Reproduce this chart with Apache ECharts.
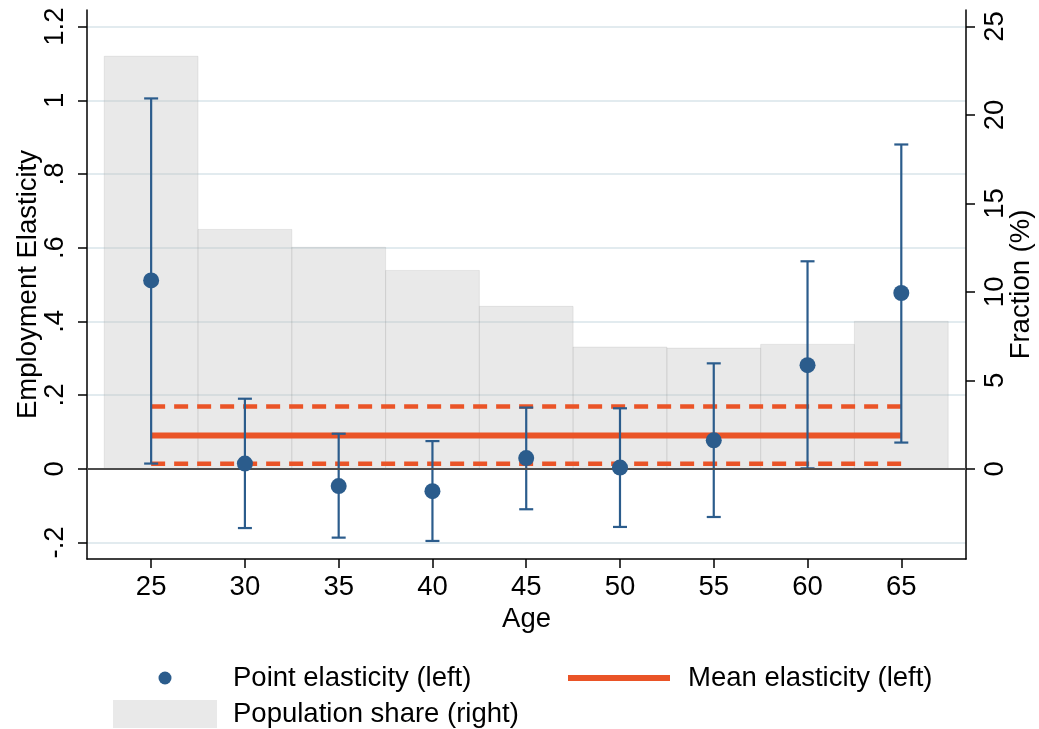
<!DOCTYPE html>
<html><head><meta charset="utf-8">
<script src="https://cdn.jsdelivr.net/npm/echarts@6/dist/echarts.min.js"></script>
<style>html,body{margin:0;padding:0;background:#fff}#c{width:1039px;height:729px}</style>
</head><body><div id="c"></div>
<script>
const ages = [25, 30, 35, 40, 45, 50, 55, 60, 65];
const pointElasticity = [0.511, 0.014, -0.047, -0.061, 0.029, 0.003, 0.077, 0.281, 0.477];
const ciLower = [0.014, -0.161, -0.187, -0.196, -0.110, -0.158, -0.131, 0.001, 0.071];
const ciUpper = [1.005, 0.190, 0.095, 0.075, 0.166, 0.164, 0.286, 0.563, 0.880];
const populationShare = [23.32, 13.53, 12.52, 11.21, 9.18, 6.88, 6.82, 7.03, 8.33];
const meanElasticity = 0.090;
const meanLower = 0.0136;
const meanUpper = 0.169;
const meanRange = [25, 65];
const binWidth = 5;
const leftTicks = [-0.2, 0, 0.2, 0.4, 0.6, 0.8, 1, 1.2];
const rightTicks = [0, 5, 10, 15, 20, 25];
const xTicks = [25, 30, 35, 40, 45, 50, 55, 60, 65];

const NAVY = '#2b5c8c';
const ORANGE = '#ea5427';
const FONT = 'Liberation Sans';
const FS = 27.5;

function fmtLeft(v) {
  let s = String(+(+v).toFixed(1));
  s = s.replace(/^0\./, '.').replace(/^-0\./, '-.');
  return s;
}

const chart = echarts.init(document.getElementById('c'));
const LMIN = -0.245, LMAX = 1.245;
const RMIN = LMIN * 25 / 1.2, RMAX = LMAX * 25 / 1.2;
const legendText = { fontSize: FS, fontFamily: FONT, color: '#000' };

const option = {
  animation: false,
  backgroundColor: '#fff',
  textStyle: { fontFamily: FONT },
  grid: { left: 87, right: 73, top: 10, bottom: 170, containLabel: false, outerBoundsMode: 'none' },
  xAxis: {
    type: 'value', min: 21.58, max: 68.45,
    name: 'Age', nameLocation: 'middle', nameGap: 42,
    nameTextStyle: { fontSize: FS, fontFamily: FONT, color: '#000' },
    axisLine: { show: true, onZero: false, lineStyle: { color: '#000', width: 1.5 } },
    axisTick: { show: true, length: 9, customValues: xTicks, lineStyle: { color: '#000', width: 1.5 } },
    axisLabel: { customValues: xTicks, fontSize: FS, fontFamily: FONT, color: '#000', margin: 14 },
    splitLine: { show: false }
  },
  yAxis: [
    {
      type: 'value', min: LMIN, max: LMAX, position: 'left',
      name: 'Employment Elasticity', nameLocation: 'middle', nameGap: 45, nameMoveOverlap: false,
      nameTextStyle: { fontSize: FS, fontFamily: FONT, color: '#000' },
      axisLine: { show: true, onZero: false, lineStyle: { color: '#000', width: 1.5 } },
      axisTick: { show: true, length: 9, customValues: leftTicks, lineStyle: { color: '#000', width: 1.5 } },
      axisLabel: { customValues: leftTicks, formatter: fmtLeft, rotate: 90, fontSize: FS, fontFamily: FONT, color: '#000', margin: 18 },
      splitLine: { show: true, lineStyle: { color: '#e2ebef', width: 2 } }
    },
    {
      type: 'value', min: RMIN, max: RMAX, position: 'right',
      name: 'Fraction (%)', nameLocation: 'middle', nameGap: 41, nameMoveOverlap: false,
      nameTextStyle: { fontSize: FS, fontFamily: FONT, color: '#000' },
      axisLine: { show: true, onZero: false, lineStyle: { color: '#000', width: 1.5 } },
      axisTick: { show: true, length: 9, customValues: rightTicks, lineStyle: { color: '#000', width: 1.5 } },
      axisLabel: { customValues: rightTicks, rotate: 90, fontSize: FS, fontFamily: FONT, color: '#000', margin: 15 },
      splitLine: { show: false }
    }
  ],
  legend: [
    {
      left: 158.5, top: 664, padding: 0,
      itemWidth: 13, itemHeight: 13,
      itemStyle: { borderWidth: 0 },
      textStyle: Object.assign({ padding: [0, 0, 0, 56.5] }, legendText),
      data: [{ name: 'Point elasticity (left)', icon: 'path://M0,6.5A6.5,6.5 0 1 1 13,6.5A6.5,6.5 0 1 1 0,6.5Z' }]
    },
    {
      left: 568, top: 664, padding: 0,
      itemWidth: 102, itemHeight: 13,
      itemStyle: { borderWidth: 0 },
      textStyle: Object.assign({ padding: [0, 0, 0, 13] }, legendText),
      data: [{ name: 'Mean elasticity (left)', icon: 'path://M0,0H100V6H0Z' }]
    },
    {
      left: 113, top: 700, padding: 0,
      itemWidth: 104, itemHeight: 28,
      itemStyle: { borderWidth: 0 },
      textStyle: Object.assign({ padding: [0, 0, 0, 11] }, legendText),
      data: [{ name: 'Population share (right)', icon: 'rect' }]
    }
  ],
  series: [
    {
      name: 'Population share (right)', type: 'custom', yAxisIndex: 1, z: 1,
      color: 'rgba(190,190,190,0.34)',
      data: ages.map((a, i) => [a, populationShare[i]]),
      renderItem: function (params, api) {
        const x = api.value(0), h = api.value(1);
        const p0 = api.coord([x - binWidth / 2, 0]);
        const p1 = api.coord([x + binWidth / 2, h]);
        return {
          type: 'rect',
          shape: { x: p0[0], y: p1[1], width: p1[0] - p0[0], height: p0[1] - p1[1] },
          style: { fill: 'rgba(190,190,190,0.34)', stroke: 'rgba(150,150,150,0.18)', lineWidth: 1 }
        };
      }
    },
    {
      name: 'Mean elasticity (left)', type: 'line', yAxisIndex: 0, z: 3,
      color: ORANGE, symbol: 'none', showSymbol: false,
      lineStyle: { color: ORANGE, width: 6 },
      data: meanRange.map(x => [x, meanElasticity]),
      markLine: {
        silent: true, symbol: 'none', label: { show: false },
        lineStyle: { color: '#4d4d4d', width: 2, type: 'solid' },
        data: [{ yAxis: 0 }]
      }
    },
    {
      name: 'Mean upper', type: 'line', yAxisIndex: 0, z: 3,
      symbol: 'none', lineStyle: { color: ORANGE, width: 4.5, type: [14, 9], cap: 'butt' },
      data: meanRange.map(x => [x, meanUpper])
    },
    {
      name: 'Mean lower', type: 'line', yAxisIndex: 0, z: 3,
      symbol: 'none', lineStyle: { color: ORANGE, width: 4.5, type: [14, 9], cap: 'butt' },
      data: meanRange.map(x => [x, meanLower])
    },
    {
      name: 'CI', type: 'custom', yAxisIndex: 0, z: 4,
      data: ages.map((a, i) => [a, ciLower[i], ciUpper[i]]),
      renderItem: function (params, api) {
        const x = api.value(0);
        const lo = api.coord([x, api.value(1)]);
        const hi = api.coord([x, api.value(2)]);
        const hw = 7;
        const st = { stroke: NAVY, lineWidth: 2.2 };
        return {
          type: 'group',
          children: [
            { type: 'line', shape: { x1: lo[0], y1: lo[1], x2: hi[0], y2: hi[1] }, style: st },
            { type: 'line', shape: { x1: lo[0] - hw, y1: lo[1], x2: lo[0] + hw, y2: lo[1] }, style: st },
            { type: 'line', shape: { x1: hi[0] - hw, y1: hi[1], x2: hi[0] + hw, y2: hi[1] }, style: st }
          ]
        };
      }
    },
    {
      name: 'Point elasticity (left)', type: 'scatter', yAxisIndex: 0, z: 5,
      symbol: 'circle', symbolSize: 16, color: NAVY,
      itemStyle: { color: NAVY, opacity: 1 },
      data: ages.map((a, i) => [a, pointElasticity[i]])
    }
  ]
};
chart.setOption(option);
</script>
</body></html>
